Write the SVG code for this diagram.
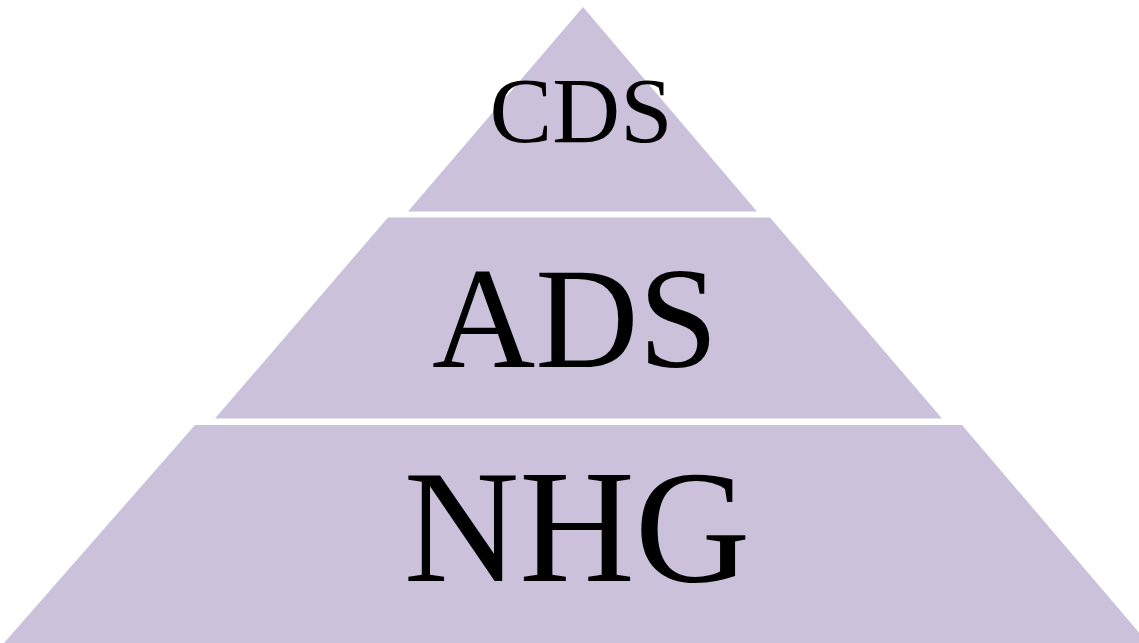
<svg xmlns="http://www.w3.org/2000/svg" width="1139" height="643" viewBox="0 0 1139 643">
<style>
.tier{fill:#CBC1DB;stroke:none}
.lbl{font-family:"Liberation Serif","Times New Roman",serif;fill:#000;text-anchor:middle}
</style>
<rect width="1139" height="643" fill="#fff"/>
<g id="tier-cds">
<polygon class="tier" points="583,7 757,211.5 408,211.5"/>
<text class="lbl" x="581" y="142" font-size="94">CDS</text>
</g>
<g id="tier-ads">
<polygon class="tier" points="388,217.5 770,217.5 942,418.5 215,418.5"/>
<text class="lbl" x="575" y="367" font-size="143">ADS</text>
</g>
<g id="tier-nhg">
<polygon class="tier" points="195,425 962,425 1148,643 4,643"/>
<text class="lbl" x="577" y="581" font-size="160">NHG</text>
</g>
<g id="connectors"></g>
</svg>
